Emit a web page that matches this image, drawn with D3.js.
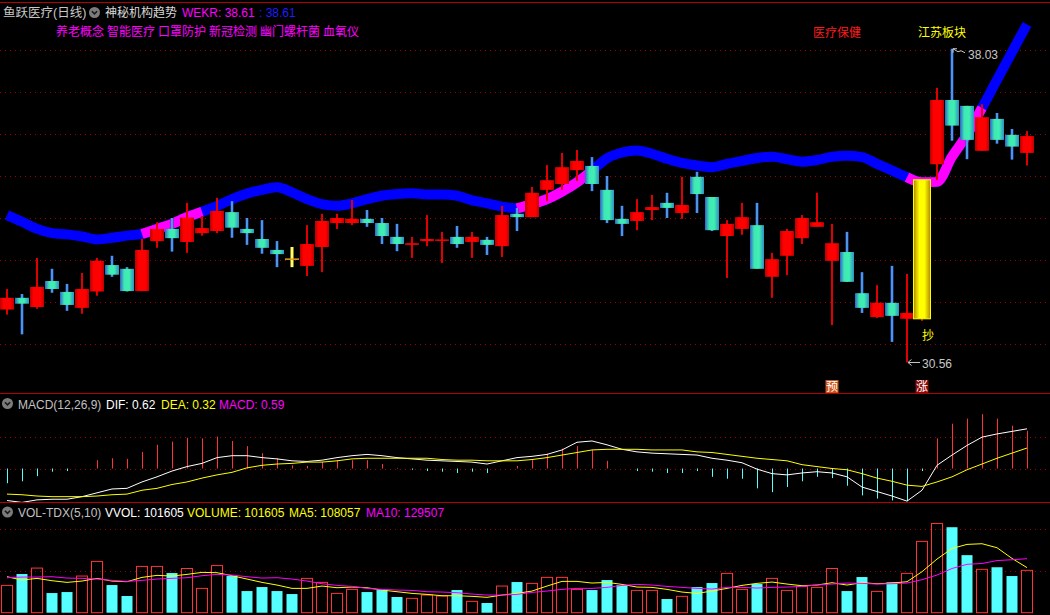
<!DOCTYPE html>
<html>
<head>
<meta charset="utf-8">
<script src="https://cdn.jsdelivr.net/npm/d3@7"></script>
<style>
html,body{margin:0;padding:0;background:#000;overflow:hidden}
svg{display:block}
text{font-family:"Liberation Sans","Noto Sans CJK SC",Arial,sans-serif}
</style>
</head>
<body>
<svg id="chart" width="1050" height="615"></svg>
<script>
// K线数据 (读图估算)
const opens  = [31.82,32.10,31.88,32.50,32.24,31.86,32.25,32.88,32.79,32.26,33.45,33.74,33.43,33.64,33.69,34.14,33.74,33.50,33.24,33.02,
                32.86,33.31,33.88,33.88,33.98,33.88,33.55,33.36,33.45,33.46,33.55,33.43,33.48,33.33,34.10,34.02,34.67,34.81,35.14,35.24,
                34.67,33.98,33.93,34.19,34.36,34.12,34.98,34.50,33.57,33.74,33.83,32.60,33.10,33.52,33.79,32.98,33.19,32.21,31.64,31.98,
                31.60,31.60,35.28,36.81,36.67,35.60,36.36,35.98,35.55];
const highs  = [32.31,32.19,33.05,32.79,32.43,32.69,33.05,33.10,32.83,33.50,33.90,34.00,34.36,34.05,34.48,34.40,34.00,33.95,33.45,33.31,
                33.83,34.10,34.10,34.43,34.19,34.00,33.86,33.55,34.07,33.67,33.81,33.67,33.55,34.29,34.24,34.74,35.26,35.55,35.62,35.45,
                35.00,34.29,34.45,34.55,34.60,34.98,35.10,34.50,33.95,34.36,34.36,33.17,33.74,34.07,34.60,33.86,33.67,32.71,32.40,32.86,
                32.67,34.91,37.10,38.03,36.67,36.71,36.50,36.12,36.07];
const lows   = [31.70,31.23,31.84,32.22,31.79,31.72,32.15,32.60,32.25,32.26,33.29,33.20,33.17,33.58,33.64,33.53,33.36,33.15,32.83,32.83,
                32.62,32.71,33.74,33.83,33.79,33.38,33.21,33.05,33.33,32.93,33.29,33.05,33.12,33.07,33.69,34.02,34.40,34.67,34.88,34.64,
                33.88,33.57,33.71,33.95,34.00,33.98,34.12,33.69,32.57,33.60,32.79,32.10,32.64,33.38,33.79,31.45,32.48,31.74,31.62,31.05,
                30.56,31.55,34.90,35.84,35.40,35.60,35.77,35.39,35.25];
const closes = [32.10,31.96,32.36,32.31,31.93,32.31,32.98,32.65,32.26,33.24,33.74,33.52,34.01,33.76,34.17,33.77,33.64,33.29,33.14,33.02,
                33.38,33.93,34.00,33.98,33.88,33.57,33.38,33.40,33.50,33.49,33.38,33.55,33.36,34.07,34.02,34.60,34.90,35.21,35.36,34.81,
                33.95,33.86,34.14,34.26,34.24,34.31,34.57,33.71,33.86,34.02,32.79,33.02,33.69,34.00,33.90,33.40,32.48,31.86,31.98,31.67,
                31.74,34.91,36.81,36.20,35.86,36.40,35.86,35.70,35.95];

// 神秘机构趋势 WEKR
const trend = [34.07,33.91,33.74,33.64,33.61,33.56,33.49,33.53,33.58,33.62,33.74,33.86,34.02,34.15,34.29,34.45,34.58,34.67,34.73,34.61,
               34.45,34.33,34.29,34.35,34.45,34.53,34.57,34.59,34.56,34.56,34.53,34.42,34.35,34.27,34.23,34.33,34.45,34.63,34.85,35.13,
               35.42,35.56,35.61,35.53,35.41,35.31,35.25,35.21,35.29,35.36,35.43,35.46,35.40,35.34,35.38,35.46,35.48,35.45,35.29,35.13,
               34.97,34.85,34.86,35.46,35.98,36.62,37.29,37.95,38.61];
// 趋势线变色区间 (起点, 终点 K线序号)
const trendRuns = [[9,13],[34,39],[60,65]];

// MACD
const dif  = [-0.50,-0.53,-0.49,-0.48,-0.48,-0.44,-0.38,-0.32,-0.31,-0.21,-0.13,-0.04,0.03,0.08,0.17,0.20,0.20,0.17,0.15,0.12,
              0.11,0.13,0.17,0.20,0.22,0.20,0.17,0.15,0.13,0.12,0.11,0.10,0.07,0.12,0.17,0.19,0.22,0.29,0.41,0.43,
              0.37,0.30,0.26,0.24,0.23,0.22,0.21,0.16,0.13,0.09,-0.01,-0.08,-0.10,-0.07,-0.05,-0.07,-0.13,-0.29,-0.36,-0.43,
              -0.51,-0.34,0.05,0.21,0.36,0.49,0.54,0.58,0.62];
const dea  = [-0.40,-0.41,-0.43,-0.44,-0.44,-0.44,-0.43,-0.41,-0.40,-0.34,-0.31,-0.25,-0.21,-0.15,-0.10,-0.06,0.01,0.05,0.07,0.08,
              0.10,0.10,0.12,0.15,0.16,0.16,0.16,0.16,0.16,0.14,0.13,0.13,0.12,0.12,0.12,0.14,0.17,0.21,0.25,0.29,
              0.30,0.30,0.30,0.29,0.29,0.29,0.26,0.25,0.22,0.19,0.16,0.14,0.12,0.06,0.03,0.00,-0.02,-0.08,-0.15,-0.20,
              -0.26,-0.28,-0.21,-0.13,-0.02,0.07,0.16,0.24,0.32];
const macd = [-0.23,-0.20,-0.12,-0.05,-0.04,0.00,0.13,0.16,0.15,0.26,0.37,0.42,0.48,0.47,0.50,0.43,0.35,0.24,0.16,0.05,
              0.04,0.10,0.13,0.13,0.13,0.07,0.01,-0.02,-0.04,-0.05,-0.07,-0.05,-0.07,0.00,0.04,0.13,0.23,0.31,0.35,0.29,
              0.12,0.00,-0.04,-0.05,-0.07,-0.07,-0.04,-0.13,-0.16,-0.16,-0.31,-0.37,-0.29,-0.20,-0.13,-0.15,-0.27,-0.42,-0.47,-0.50,
              -0.51,-0.04,0.47,0.70,0.78,0.85,0.78,0.67,0.59];

// 成交量
const volumes = [65500,92700,107000,47100,49500,87900,123000,66300,40000,111000,111000,95100,106000,58300,113000,87900,51900,61500,51900,44700,
                 82300,72700,46300,55900,49500,54300,37600,34400,42300,40000,54300,27200,23200,63900,73500,70300,84700,84700,55900,54300,
                 78300,66300,53500,53500,32800,39200,61500,71100,94300,55900,68700,82300,53500,63100,60700,106000,51900,85500,51100,72700,
                 94300,171000,214000,205000,138000,104000,109000,87900,101605];
const volMA5  = [86300,78300,82300,76700,72700,75900,82300,75900,74300,84700,89500,87900,91900,96700,95900,88700,80700,72700,66300,58300,
                 58300,63900,59900,61500,59900,54300,50300,46300,43900,40700,40700,39200,36800,42300,46300,51900,63900,75100,75100,71100,
                 72700,67900,61500,60700,55900,49500,46300,51900,58300,65500,70300,73500,68700,64700,66300,71900,66300,71900,69500,71100,
                 74300,98300,128600,154000,163800,165400,155800,130200,108057];
const volMA10 = [83900,85500,85500,86300,83100,82300,80700,77500,75100,77500,80700,82300,83900,88700,91900,90300,86300,83100,83900,80700,
                 75900,69500,65500,63100,58300,55900,54300,53500,50300,49500,47900,44700,42300,42300,43900,48700,51900,55900,58300,58300,
                 60700,65500,67900,66300,63100,60700,58300,56700,60700,60700,59100,60700,61500,63100,66300,68700,71100,70300,68700,69500,
                 71100,79100,90300,106000,116000,118000,125000,127000,129507];

const priceTicks = [31,32,33,34,35,36,37,38];
const macdTicks = [0,0.5];
const volTicks = [100000,200000];

const conceptTags = ['养老概念','智能医疗','口罩防护','新冠检测','幽门螺杆菌','血氧仪'];
const boardTags = [{i:54, text:'医疗保健', color:'#ff1a1a'}, {i:61, text:'江苏板块', color:'#ffff00'}];
const signalTags = [{i:55, text:'预', bg:'#c8561a'}, {i:61, text:'涨', bg:'#8a0a0a'}];

const N = closes.length;
const W = 1050, H = 615;
const svg = d3.select('#chart');
svg.append('rect').attr('width', W).attr('height', H).attr('fill', '#000');

// 渐变
const defs = svg.append('defs');
function grad(id, stops){
    const g = defs.append('linearGradient').attr('id', id).attr('x1','0%').attr('x2','100%').attr('y1','0%').attr('y2','0%');
    stops.forEach(s => g.append('stop').attr('offset', s[0]).attr('stop-color', s[1]));
}
grad('gRed', [['0%','#b80000'],['25%','#ff0000'],['75%','#ff0000'],['100%','#c00000']]);
grad('gCyan', [['0%','#2f62c8'],['30%','#3ee8b4'],['65%','#40f0b0'],['100%','#2f8fc8']]);
grad('gWick', [['0%','#2050b8'],['50%','#66b8ff'],['100%','#2050b8']]);
grad('gGold', [['0%','#b08800'],['35%','#ffff00'],['65%','#ffff00'],['100%','#b08800']]);

const clip = (id, y0, y1) => defs.append('clipPath').attr('id', id)
    .append('rect').attr('x', 0).attr('y', y0).attr('width', W).attr('height', y1 - y0);
clip('cMain', 4, 393);
clip('cMacd', 395, 502);
clip('cVol', 504, 615);

// 比例尺
const x = d3.scaleBand().domain(d3.range(N)).range([-0.5, N * 15 - 0.5]);
const cx = i => x(i) + x.bandwidth() / 2;
const yP = d3.scaleLinear().domain([31, 38]).range([344, 50]);
const yM = d3.scaleLinear().domain([0, 0.5]).range([468.5, 436.5]);
const yV = d3.scaleLinear().domain([0, 200000]).range([612.7, 529.3]);

// 网格虚线
function grid(ticks, scale){
    svg.append('g').selectAll('line').data(ticks).join('line')
        .attr('x1', 0).attr('x2', W)
        .attr('y1', d => Math.round(scale(d)) + 0.5).attr('y2', d => Math.round(scale(d)) + 0.5)
        .attr('stroke', '#a00000').attr('stroke-dasharray', '1,4');
}
grid(priceTicks, yP);
grid(macdTicks, yM);
grid(volTicks, yV);

// 分隔线
svg.append('g').selectAll('line').data([2.5, 393.5, 502.5]).join('line')
    .attr('x1', 0).attr('x2', W).attr('y1', d => d).attr('y2', d => d)
    .attr('stroke', '#b40000').attr('stroke-width', 1.2);

// ===== 主图 =====
const main = svg.append('g').attr('clip-path', 'url(#cMain)');

const trendLine = d3.line().x(i => cx(i)).y(i => yP(trend[i])).curve(d3.curveMonotoneX);
main.append('path').attr('d', trendLine(d3.range(N)))
    .attr('fill', 'none').attr('stroke', '#0000ff').attr('stroke-width', 10).attr('stroke-linejoin', 'round');
main.append('g').selectAll('path').data(trendRuns).join('path')
    .attr('d', r => trendLine(d3.range(r[0], r[1] + 1)))
    .attr('fill', 'none').attr('stroke', '#ff00ff').attr('stroke-width', 10).attr('stroke-linejoin', 'round');

const candles = main.append('g').selectAll('g').data(d3.range(N)).join('g');
const isLimit = i => i > 0 && closes[i] >= closes[i - 1] * 1.099;
const isUp = i => closes[i] > opens[i];
const isDoji = i => closes[i] === opens[i];

// 影线
candles.append('rect')
    .attr('x', i => isUp(i) || isLimit(i) ? cx(i) - 1 : cx(i) - 1.5)
    .attr('width', i => isUp(i) || isLimit(i) ? 2 : 3)
    .attr('y', i => yP(highs[i]))
    .attr('height', i => Math.max(1, yP(lows[i]) - yP(highs[i])))
    .attr('fill', i => isLimit(i) ? '#d01010' : isDoji(i) ? '#ffff60' : isUp(i) ? '#e00000' : 'url(#gWick)');

// 实体
candles.append('rect')
    .attr('x', i => isLimit(i) ? cx(i) - 8.5 : cx(i) - 7)
    .attr('width', i => isLimit(i) ? 17 : 14)
    .attr('y', i => isDoji(i) ? yP(closes[i]) - 0.75 : yP(Math.max(opens[i], closes[i])))
    .attr('height', i => isDoji(i) ? 1.5 : Math.max(1.5, Math.abs(yP(opens[i]) - yP(closes[i]))))
    .attr('fill', i => isLimit(i) ? 'url(#gGold)' : isDoji(i) ? '#e0a020' : isUp(i) ? 'url(#gRed)' : 'url(#gCyan)')
    .attr('stroke', i => isLimit(i) ? '#ffff00' : 'none')
    .attr('stroke-width', 1);

// 板块标签
main.append('g').selectAll('text').data(boardTags).join('text')
    .attr('x', d => cx(d.i) - 4).attr('y', 37)
    .attr('fill', d => d.color).attr('font-size', 12)
    .attr('font-family', '"Noto Sans CJK SC",sans-serif')
    .text(d => d.text);

// 最高/最低价标注
const hiIdx = d3.maxIndex(highs), loIdx = d3.minIndex(lows);
const hx = cx(hiIdx) + 1, hy = yP(highs[hiIdx]);
main.append('path')
    .attr('d', `M${hx},${hy} l0,4 M${hx},${hy} l4,0 M${hx},${hy} l5,3 l3,-1 l4,2`)
    .attr('stroke', '#c8c8c8').attr('fill', 'none').attr('stroke-width', 1);
main.append('text').attr('x', hx + 15).attr('y', hy + 10.5)
    .attr('fill', '#c8c8c8').attr('font-size', 12).text(highs[hiIdx].toFixed(2));
const lx = cx(loIdx) + 1, ly = yP(lows[loIdx]);
main.append('path')
    .attr('d', `M${lx},${ly} l12,0 M${lx},${ly} l3.5,-3 M${lx},${ly} l3.5,3`)
    .attr('stroke', '#c8c8c8').attr('fill', 'none').attr('stroke-width', 1);
main.append('text').attr('x', lx + 14).attr('y', ly + 5.5)
    .attr('fill', '#c8c8c8').attr('font-size', 12).text(lows[loIdx].toFixed(2));

// 抄
const limitIdx = d3.range(N).filter(isLimit);
main.append('g').selectAll('text').data(limitIdx).join('text')
    .attr('x', i => cx(i) + 6).attr('y', i => yP(lows[i]) + 19)
    .attr('text-anchor', 'middle').attr('fill', '#ffff00').attr('font-size', 12)
    .attr('font-family', '"Noto Sans CJK SC",sans-serif').text('抄');

// 预 / 涨
const sig = main.append('g').selectAll('g').data(signalTags).join('g')
    .attr('transform', d => `translate(${cx(d.i)},386.5)`);
sig.append('rect').attr('x', -6.5).attr('y', -6.5).attr('width', 13).attr('height', 13).attr('fill', d => d.bg);
sig.append('text').attr('y', 4.5).attr('text-anchor', 'middle').attr('fill', '#fff')
    .attr('font-size', 12).attr('font-family', '"Noto Sans CJK SC",sans-serif').text(d => d.text);

// ===== MACD =====
const mg = svg.append('g').attr('clip-path', 'url(#cMacd)');
mg.append('g').selectAll('line').data(d3.range(N).filter(i => macd[i] !== 0)).join('line')
    .attr('x1', i => Math.round(cx(i)) + 0.5).attr('x2', i => Math.round(cx(i)) + 0.5)
    .attr('y1', yM(0)).attr('y2', i => yM(macd[i]))
    .attr('stroke', i => macd[i] > 0 ? '#ff3333' : '#55ffff').attr('stroke-width', 1);
const lineM = arr => d3.line().x(i => cx(i)).y(i => yM(arr[i]))(d3.range(N));
mg.append('path').attr('d', lineM(dif)).attr('fill', 'none').attr('stroke', '#ffffff').attr('stroke-width', 1);
mg.append('path').attr('d', lineM(dea)).attr('fill', 'none').attr('stroke', '#ffff00').attr('stroke-width', 1);

// ===== VOL =====
const vg = svg.append('g').attr('clip-path', 'url(#cVol)');
vg.append('g').selectAll('rect').data(d3.range(N)).join('rect')
    .attr('x', i => Math.round(cx(i)) - 5.5).attr('width', 11)
    .attr('y', i => yV(volumes[i])).attr('height', i => yV(0) - yV(volumes[i]))
    .attr('fill', i => closes[i] > opens[i] ? 'none' : '#55ffff')
    .attr('stroke', i => closes[i] > opens[i] ? '#ff3333' : 'none').attr('stroke-width', 1);
const lineV = arr => d3.line().x(i => cx(i)).y(i => yV(arr[i]))(d3.range(N));
vg.append('path').attr('d', lineV(volMA5)).attr('fill', 'none').attr('stroke', '#ffff00').attr('stroke-width', 1);
vg.append('path').attr('d', lineV(volMA10)).attr('fill', 'none').attr('stroke', '#ff00ff').attr('stroke-width', 1);

// ===== 标题 =====
function icon(cxp, cyp){
    const g = svg.append('g').attr('transform', `translate(${cxp},${cyp})`);
    g.append('circle').attr('r', 5.5).attr('fill', '#7c7c7c');
    g.append('path').attr('d', 'M-2.6,-1.2 L0,1.4 L2.6,-1.2').attr('fill', 'none').attr('stroke', '#1a1a1a').attr('stroke-width', 1.6);
}
function labelRow(y, items){
    items.forEach(d => {
        svg.append('text').attr('x', d.x).attr('y', y).attr('fill', d.color)
            .attr('font-size', d.size || 12).text(d.text);
    });
}
const last = N - 1;
icon(94.5, 12.5);
labelRow(17, [
    {x: 3, text: '鱼跃医疗(日线)', color: '#c8c8c8', size: 12.5},
    {x: 105, text: '神秘机构趋势', color: '#d8d8d8', size: 12},
    {x: 182, text: 'WEKR: ' + trend[last].toFixed(2), color: '#ff00ff'},
    {x: 259, text: ': ' + trend[last].toFixed(2), color: '#1e1eff'}
]);

// 概念标签
let tx = 56;
conceptTags.forEach(t => {
    const el = svg.append('text').attr('x', tx).attr('y', 36).attr('fill', '#ff00ff')
        .attr('font-size', 12).attr('font-family', '"Noto Sans CJK SC",sans-serif').text(t);
    tx += el.node().getComputedTextLength() + 3;
});

icon(7.5, 403.5);
labelRow(408.5, [
    {x: 18, text: 'MACD(12,26,9)', color: '#c0c0c0'},
    {x: 106, text: 'DIF: ' + dif[last].toFixed(2), color: '#ffffff'},
    {x: 161, text: 'DEA: ' + dea[last].toFixed(2), color: '#ffff00'},
    {x: 219, text: 'MACD: ' + macd[last].toFixed(2), color: '#ff00ff'}
]);

icon(7.5, 512);
labelRow(517, [
    {x: 18, text: 'VOL-TDX(5,10)', color: '#c0c0c0'},
    {x: 105, text: 'VVOL: ' + volumes[last], color: '#ffffff'},
    {x: 187, text: 'VOLUME: ' + volumes[last], color: '#ffff00'},
    {x: 289, text: 'MA5: ' + volMA5[last], color: '#ffff00'},
    {x: 366, text: 'MA10: ' + volMA10[last], color: '#ff00ff'}
]);
</script>
</body>
</html>
